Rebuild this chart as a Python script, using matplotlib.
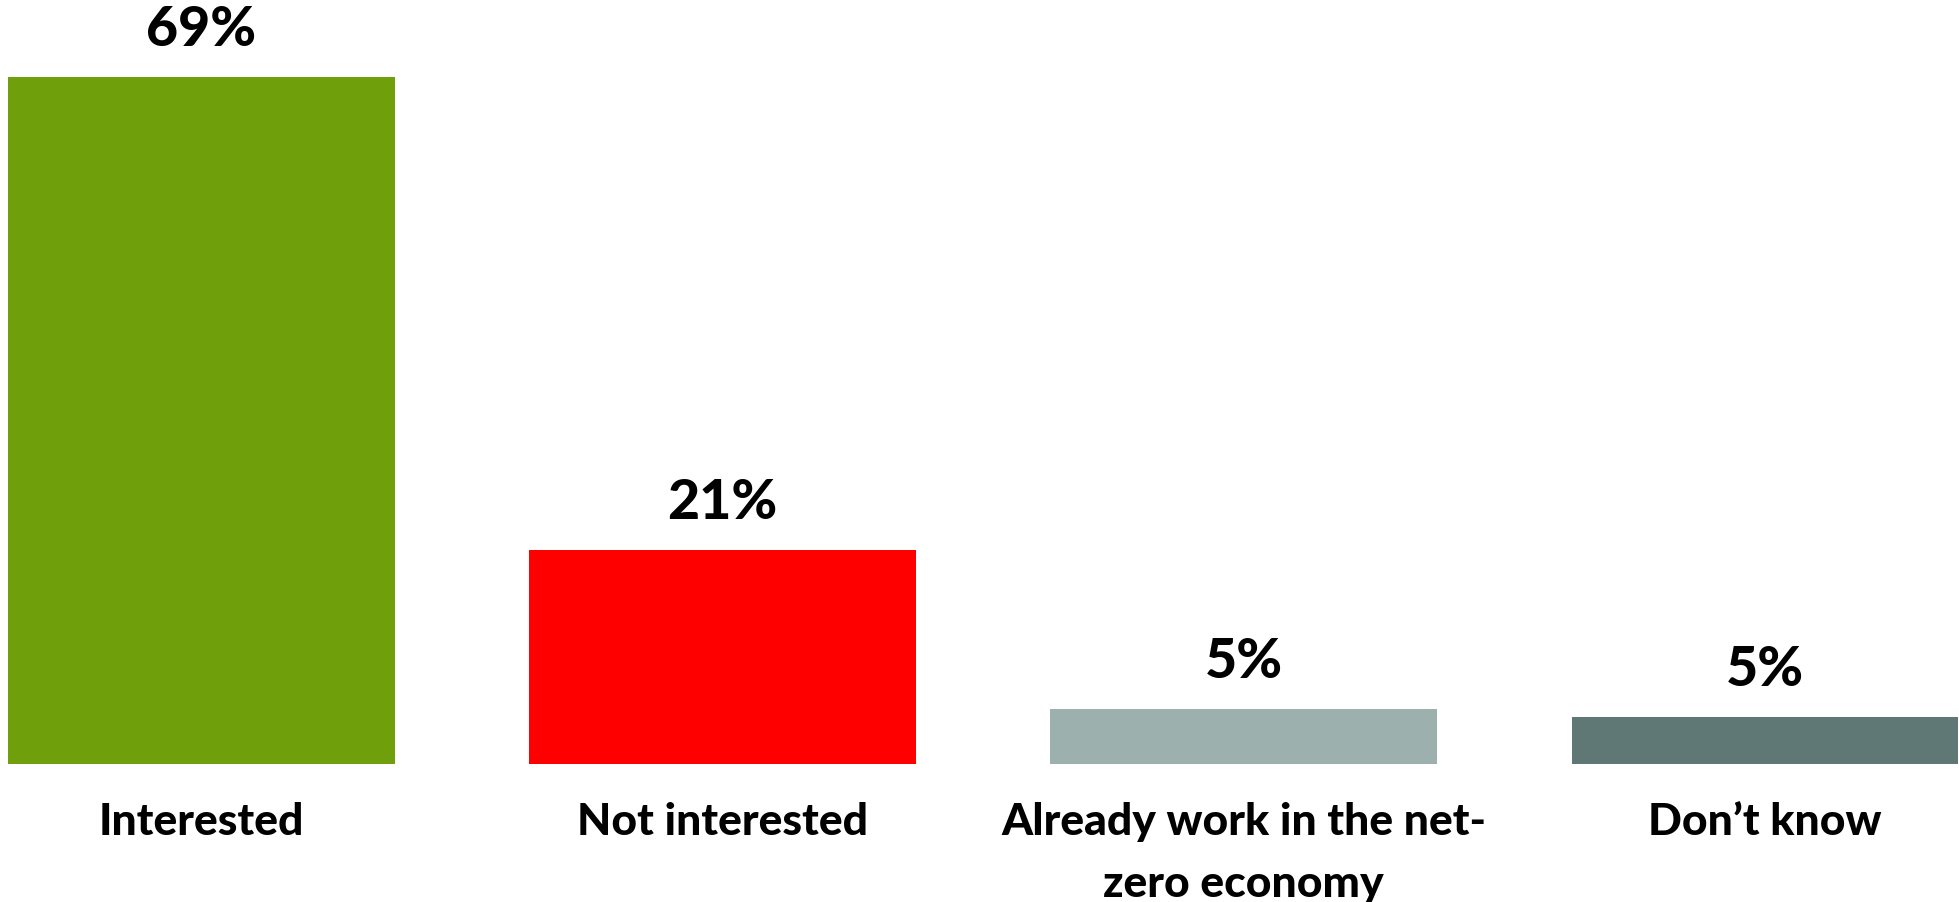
import matplotlib
matplotlib.use("Agg")
import matplotlib.pyplot as plt
import numpy as np

categories = ["Interested", "Not interested", "Already work in the net-\nzero economy", "Don\u2019t know"]
values = [69.2, 21.5, 5.5, 4.7]
value_labels = ["69%", "21%", "5%", "5%"]
colors = ["#6FA00C", "#FF0000", "#9CB0AE", "#607875"]


def main():
    plt.rcParams["font.family"] = ["Lato", "DejaVu Sans"]

    fig = plt.figure(figsize=(19.59, 9.02), dpi=100)
    ax = fig.add_axes([0, 0.1535, 1, 0.8465])

    x = np.arange(len(categories))
    bars = ax.bar(x, values, width=0.742, color=colors)

    for bar, label in zip(bars, value_labels):
        ax.annotate(label, (bar.get_x() + bar.get_width() / 2, bar.get_height()),
                    xytext=(0, 22.5), textcoords="offset points",
                    ha="center", va="baseline", fontsize=40, fontweight="black")

    ax.set_xlim(-0.386, 3.372)
    ax.set_ylim(0, 76.96)
    ax.set_xticks(x, categories)
    ax.tick_params(axis="x", length=0, pad=28, labelsize=32)
    for lab in ax.get_xticklabels():
        lab.set_fontweight("black")
        lab.set_verticalalignment("top")
        lab.set_linespacing(1.65)
    ax.set_yticks([])
    for side in ax.spines.values():
        side.set_visible(False)

    fig.savefig("out.png", dpi=100)


if __name__ == "__main__":
    main()
